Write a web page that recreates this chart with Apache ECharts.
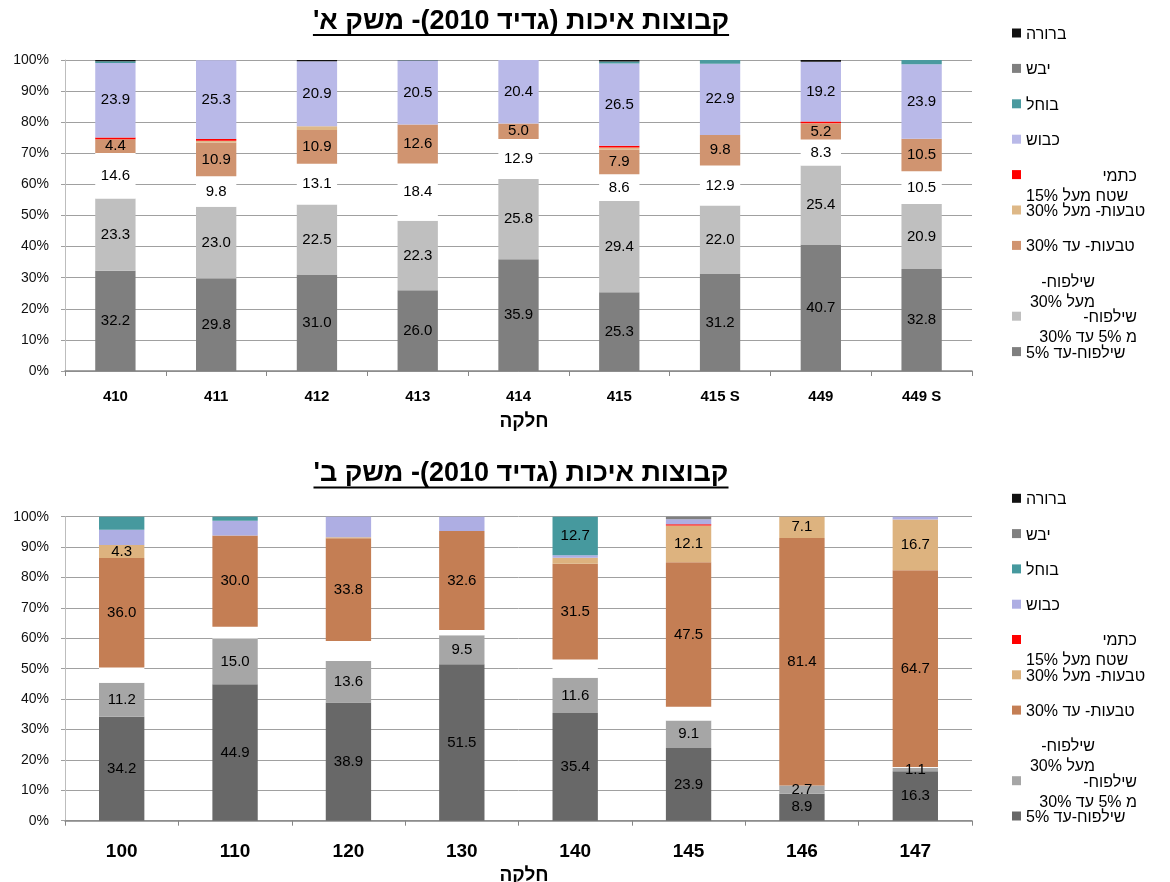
<!DOCTYPE html>
<html lang="he">
<head>
<meta charset="utf-8">
<title>קבוצות איכות (גדיד 2010)</title>
<script src="https://cdn.jsdelivr.net/npm/echarts@6/dist/echarts.min.js"></script>
<style>
  html, body { margin: 0; padding: 0; background: #fff; }
  #chart_a { width: 1170px; height: 450px; }
  #chart_b { width: 1170px; height: 432px; }
</style>
</head>
<body>
<div id="chart_a"></div>
<div id="chart_b"></div>
<script>
  const FONT = '"Liberation Sans", Arial, "DejaVu Sans", sans-serif';

  const titleA = "קבוצות איכות (גדיד 2010)- משק א'";
  const titleB = "קבוצות איכות (גדיד 2010)- משק ב'";
  const axisName = 'חלקה';

  // legend text, bottom series first (as stacked)
  const legendLines = [
    ['שילפוח-עד 5%'],
    ['שילפוח-', 'מ 5% עד 30%'],
    ['שילפוח-', 'מעל 30%'],
    ['טבעות- עד 30%'],
    ['טבעות- מעל 30%'],
    ['כתמי', 'שטח מעל 15%'],
    ['כבוש'],
    ['בוחל'],
    ['יבש'],
    ['ברורה']
  ];
  const seriesNames = legendLines.map(l => l.join(' '));

  // משק א'
  const catsA = ['410', '411', '412', '413', '414', '415', '415 S', '449', '449 S'];
  const upTo5A      = [32.2, 29.8, 31.0, 26.0, 35.9, 25.3, 31.2, 40.7, 32.8];
  const from5to30A  = [23.3, 23.0, 22.5, 22.3, 25.8, 29.4, 22.0, 25.4, 20.9];
  const over30A     = [14.6, 9.8, 13.1, 18.4, 12.9, 8.6, 12.9, 8.3, 10.5];
  const ringsTo30A  = [4.4, 10.9, 10.9, 12.6, 5.0, 7.9, 9.8, 5.2, 10.5];
  const ringsOver30A = [0, 0.5, 1.2, 0, 0, 0.7, 0, 0.1, 0];
  const spotsA      = [0.6, 0.6, 0, 0, 0, 0.5, 0, 0.5, 0];
  const kavushA     = [23.9, 25.3, 20.9, 20.5, 20.4, 26.5, 22.9, 19.2, 23.9];
  const bochelA     = [0.6, 0, 0, 0.1, 0, 0.6, 1.2, 0, 1.4];
  const yaveshA     = [0, 0, 0, 0, 0, 0, 0, 0, 0];
  const bruraA      = [0.4, 0, 0.4, 0.1, 0, 0.5, 0, 0.6, 0];

  // משק ב'
  const catsB = ['100', '110', '120', '130', '140', '145', '146', '147'];
  const upTo5B      = [34.2, 44.9, 38.9, 51.5, 35.4, 23.9, 8.9, 16.3];
  const from5to30B  = [11.2, 15.0, 13.6, 9.5, 11.6, 9.1, 2.7, 1.1];
  const over30B     = [5.0, 3.9, 6.6, 1.7, 6.0, 4.5, 0, 0.3];
  const ringsTo30B  = [36.0, 30.0, 33.8, 32.6, 31.5, 47.5, 81.4, 64.7];
  const ringsOver30B = [4.3, 0, 0.3, 0, 2.0, 12.1, 7.1, 16.7];
  const spotsB      = [0, 0, 0, 0, 0, 0.4, 0, 0];
  const kavushB     = [5.0, 4.9, 6.8, 4.7, 0.8, 1.7, 0, 0.9];
  const bochelB     = [4.3, 1.3, 0, 0, 12.7, 0, 0, 0];
  const yaveshB     = [0, 0, 0, 0, 0, 0.8, 0, 0];
  const bruraB      = [0, 0, 0, 0, 0, 0, 0, 0];

  const rtl = s => '\u200F' + s + '\u200F';

  function textWidth(text, font) {
    const ctx = document.createElement('canvas').getContext('2d');
    ctx.font = font;
    return ctx.measureText(text).width;
  }

  function makeChart(dom, cfg) {
    const series = cfg.values.map((vals, s) => ({
      name: seriesNames[s],
      type: 'bar',
      stack: 'total',
      barWidth: '40%',
      data: vals,
      itemStyle: { color: cfg.colors[s] },
      label: {
        show: true,
        position: 'inside',
        color: '#000',
        fontFamily: FONT,
        fontSize: 15,
        formatter: p => (cfg.labelMin[s] != null && p.value > 0 && p.value >= cfg.labelMin[s]) ? p.value.toFixed(1) : ''
      },
      emphasis: { disabled: true }
    }));

    // one legend per entry, so the odd wrapping of the original can be followed
    const multi = {
      1: { width: 111, align: ['r', 'r'] },
      2: { width: 69, align: ['r', 'r'] },
      5: { width: 111, align: ['r', 'l'] }
    };
    const L = 20;
    const legends = seriesNames.map((name, s) => {
      const lines = legendLines[s];
      const n = lines.length;
      const padTop = L * (n - 1) + 3;
      const H = L * n + padTop;
      const c = cfg.legendTop + cfg.legendStep * (seriesNames.length - 1 - s);
      const box = multi[s];
      const formatter = n === 1
        ? () => rtl(lines[0])
        : () => lines.map((t, i) => '{' + box.align[i] + '|' + rtl(t) + '}').join('\n');
      const tokenStyle = { fontFamily: FONT, fontSize: 16, color: '#000', lineHeight: L };
      return {
        data: [{ name: name, icon: 'rect' }],
        left: 1012,
        top: c - H / 2,
        padding: 0,
        itemWidth: 9,
        itemHeight: 9,
        selectedMode: false,
        formatter: formatter,
        textStyle: {
          fontFamily: FONT,
          fontSize: 16,
          color: '#000',
          lineHeight: L,
          padding: [padTop, 0, 0, 0],
          width: box ? box.width : undefined,
          rich: {
            r: Object.assign({ align: 'right' }, tokenStyle),
            l: Object.assign({ align: 'left' }, tokenStyle)
          }
        }
      };
    });

    const titleFont = 'bold 27px ' + FONT;
    const tw = textWidth(rtl(cfg.title), titleFont);

    const option = {
      animation: false,
      backgroundColor: '#fff',
      textStyle: { fontFamily: FONT },
      graphic: [
        {
          type: 'text',
          x: 521, y: cfg.titleY,
          style: { text: rtl(cfg.title), font: titleFont, fill: '#000', align: 'center', verticalAlign: 'middle' }
        },
        {
          type: 'rect',
          shape: { x: 521 - tw / 2, y: cfg.titleY + 12.5, width: tw, height: 2 },
          style: { fill: '#000' }
        }
      ],
      legend: legends,
      grid: {
        left: 65, right: 198, top: cfg.gridTop, height: cfg.gridHeight,
        containLabel: false,
        outerBoundsMode: 'none'
      },
      xAxis: {
        type: 'category',
        data: cfg.cats,
        axisLine: { lineStyle: { color: '#868686', width: 1.5 } },
        axisTick: { show: true, length: 5, lineStyle: { color: '#868686' } },
        axisLabel: {
          interval: 0,
          color: '#000',
          fontFamily: FONT,
          fontWeight: 'bold',
          fontSize: cfg.catFont,
          margin: cfg.catMargin
        },
        name: rtl(axisName),
        nameLocation: 'middle',
        nameGap: cfg.nameGap,
        nameTextStyle: { color: '#000', fontFamily: FONT, fontWeight: 'bold', fontSize: 19, padding: [0, 0, 0, 11] }
      },
      yAxis: {
        type: 'value',
        min: 0,
        max: 100,
        interval: 10,
        axisLine: { show: true, lineStyle: { color: '#bdbdbd' } },
        axisTick: { show: true, length: 4, lineStyle: { color: '#9f9f9f' } },
        axisLabel: { formatter: '{value}%', color: '#111', fontFamily: FONT, fontSize: 14, margin: 16 },
        splitLine: { lineStyle: { color: '#a0a0a0', width: 1 } }
      },
      series: series
    };
    const myChart = echarts.init(dom);
    myChart.setOption(option);
    return myChart;
  }

  makeChart(document.getElementById('chart_a'), {
    title: titleA,
    titleY: 21.5,
    cats: catsA,
    values: [upTo5A, from5to30A, over30A, ringsTo30A, ringsOver30A, spotsA, kavushA, bochelA, yaveshA, bruraA],
    colors: ['#7f7f7f', '#bfbfbf', '#ffffff', '#d09470', '#deb887', '#ff0000', '#b9b9e8', '#4a9a9f', '#808080', '#111111'],
    labelMin: [0, 0, 0, 0, null, null, 0, null, null, null],
    gridTop: 60,
    gridHeight: 311,
    catFont: 15,
    catMargin: 18,
    nameGap: 41,
    legendTop: 33,
    legendStep: 35.4
  });

  makeChart(document.getElementById('chart_b'), {
    title: titleB,
    titleY: 24,
    cats: catsB,
    values: [upTo5B, from5to30B, over30B, ringsTo30B, ringsOver30B, spotsB, kavushB, bochelB, yaveshB, bruraB],
    colors: ['#686868', '#a6a6a6', '#ffffff', '#c47e54', '#ddb37f', '#ff0000', '#aeaee3', '#46999e', '#808080', '#111111'],
    labelMin: [0, 0, null, 0, 4, null, null, 10, null, null],
    gridTop: 66.7,
    gridHeight: 304,
    catFont: 19,
    catMargin: 22,
    nameGap: 38,
    legendTop: 48.3,
    legendStep: 35.3
  });
</script>
</body>
</html>
